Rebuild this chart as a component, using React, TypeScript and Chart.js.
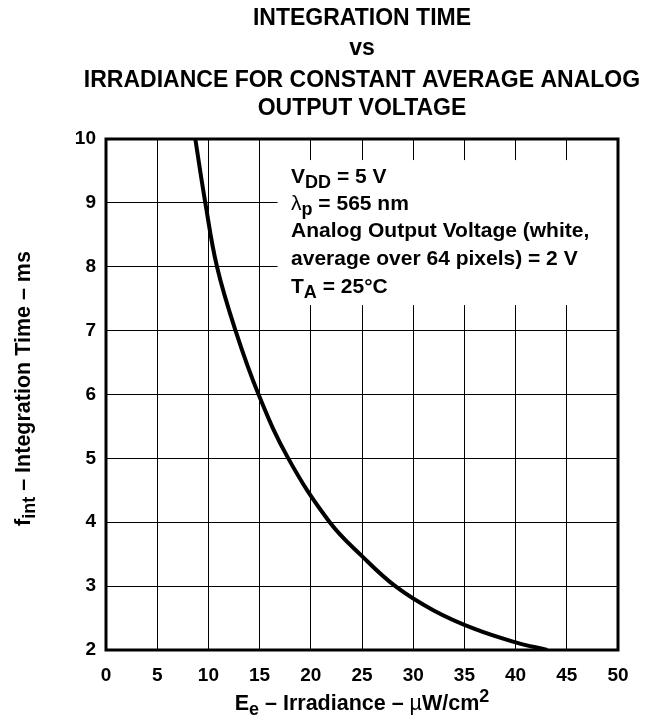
import React, { useEffect, useRef } from "react";
import { Chart, registerables } from "chart.js";

Chart.register(...registerables);

// ---- data ----
const irradiance = [8.72, 9.7, 10.84, 12.65, 14.9, 17.8, 21.85, 25.0, 28.25, 32.0, 36.0, 40.0, 43.1];
const integrationTime = [10.0, 9.0, 8.0, 7.0, 6.0, 5.0, 4.0, 3.47, 3.0, 2.62, 2.33, 2.12, 2.0];
const xTicks = [0, 5, 10, 15, 20, 25, 30, 35, 40, 45, 50];
const yTicks = [2, 3, 4, 5, 6, 7, 8, 9, 10];
const titleLines = [
  "INTEGRATION TIME",
  "vs",
  "IRRADIANCE FOR CONSTANT AVERAGE ANALOG",
  "OUTPUT VOLTAGE",
];

const FONT = '"Liberation Sans", Arial, Helvetica, sans-serif';

type Seg = { t: string; sub?: boolean; sup?: boolean; normal?: boolean };

function drawRich(ctx: CanvasRenderingContext2D, segs: Seg[], x: number, y: number, size: number, measureOnly = false): number {
  let cx = x;
  for (const s of segs) {
    const sz = s.sub || s.sup ? Math.round(size * 0.85) : size;
    const dy = s.sub ? size * 0.22 : s.sup ? -size * 0.38 : 0;
    ctx.font = `${s.normal ? "normal" : "bold"} ${sz}px ${FONT}`;
    if (!measureOnly) ctx.fillText(s.t, cx, y + dy);
    cx += ctx.measureText(s.t).width;
  }
  return cx - x;
}

const overlay = {
  id: "overlay",
  beforeDatasetsDraw(chart: any) {
    const { ctx, chartArea, scales } = chart;
    const xs = scales.x;
    const ys = scales.y;
    ctx.save();
    ctx.fillStyle = "#ffffff";
    const bx = xs.getPixelForValue(16.75);
    const by1 = ys.getPixelForValue(9.67);
    const by2 = ys.getPixelForValue(7.4);
    ctx.fillRect(bx, by1, chartArea.right - bx - 1, by2 - by1);
    ctx.restore();
  },
  afterDraw(chart: any) {
    const { ctx, chartArea, scales } = chart;
    const xs = scales.x;
    const ys = scales.y;
    ctx.save();
    // frame
    ctx.strokeStyle = "#000";
    ctx.lineWidth = 3;
    ctx.strokeRect(chartArea.left, chartArea.top, chartArea.right - chartArea.left, chartArea.bottom - chartArea.top);

    ctx.fillStyle = "#000";
    ctx.textBaseline = "alphabetic";
    ctx.textAlign = "left";

    // title
    const cxm = (chartArea.left + chartArea.right) / 2;
    const titleBase = [17, 47, 79, 107];
    ctx.font = `bold 23px ${FONT}`;
    ctx.textAlign = "center";
    titleLines.forEach((l, i) => ctx.fillText(l, cxm, titleBase[i]));
    ctx.textAlign = "left";

    // annotation
    const ax = xs.getPixelForValue(18.07);
    const lines: Seg[][] = [
      [{ t: "V" }, { t: "DD", sub: true }, { t: " = 5 V" }],
      [{ t: "λ", normal: true }, { t: "p", sub: true }, { t: " = 565 nm" }],
      [{ t: "Analog Output Voltage (white," }],
      [{ t: "average over 64 pixels) = 2 V" }],
      [{ t: "T" }, { t: "A", sub: true }, { t: " = 25°C" }],
    ];
    const baseVals = [9.31, 8.89, 8.47, 8.03, 7.59];
    lines.forEach((segs, i) => drawRich(ctx, segs, ax, ys.getPixelForValue(baseVals[i]), 21));

    // x title
    const xt: Seg[] = [
      { t: "E" }, { t: "e", sub: true }, { t: " – Irradiance – " }, { t: "µ", normal: true }, { t: "W/cm" }, { t: "2", sup: true },
    ];
    const xw = drawRich(ctx, xt, 0, 0, 21.5, true);
    drawRich(ctx, xt, cxm - xw / 2, chartArea.bottom + 60, 21.5);

    // y title
    const yt: Seg[] = [{ t: "f" }, { t: "int", sub: true }, { t: " – Integration Time – ms" }];
    const yw = drawRich(ctx, yt, 0, 0, 21.5, true);
    ctx.translate(22, (chartArea.top + chartArea.bottom) / 2 - 6);
    ctx.rotate(-Math.PI / 2);
    drawRich(ctx, yt, -yw / 2, 0, 21.5);
    ctx.restore();
  },
};

export default function App() {
  const ref = useRef<HTMLCanvasElement | null>(null);
  useEffect(() => {
    if (!ref.current) return;
    const chart = new Chart(ref.current, {
      type: "line",
      data: {
        datasets: [
          {
            data: irradiance.map((x, i) => ({ x, y: integrationTime[i] })),
            borderColor: "#000",
            borderWidth: 4,
            pointRadius: 0,
            tension: 0.4,
            fill: false,
          },
        ],
      },
      options: {
        animation: false,
        responsive: false,
        layout: { padding: { top: 131, right: 44, left: 0, bottom: 0 } },
        plugins: { legend: { display: false }, tooltip: { enabled: false }, title: { display: false } },
        scales: {
          x: {
            type: "linear",
            min: 0,
            max: 50,
            afterBuildTicks: (s: any) => { s.ticks = xTicks.map((v) => ({ value: v })); },
            afterFit: (s: any) => { s.height = 65; },
            ticks: { color: "#000", font: { family: FONT, size: 19, weight: "bold" }, padding: 14, maxRotation: 0 },
            grid: { color: "#000", lineWidth: 1, drawTicks: false },
            border: { display: false },
          },
          y: {
            type: "linear",
            min: 2,
            max: 10,
            afterBuildTicks: (s: any) => { s.ticks = yTicks.map((v) => ({ value: v })); },
            afterFit: (s: any) => { s.width = 98; },
            ticks: { color: "#000", font: { family: FONT, size: 19, weight: "bold" }, padding: 10 },
            grid: { color: "#000", lineWidth: 1, drawTicks: false },
            border: { display: false },
          },
        },
      },
      plugins: [overlay],
    } as any);
    return () => chart.destroy();
  }, []);
  return (
    <div style={{ width: 654, height: 707 }}>
      <canvas ref={ref} width={654} height={707} />
    </div>
  );
}
